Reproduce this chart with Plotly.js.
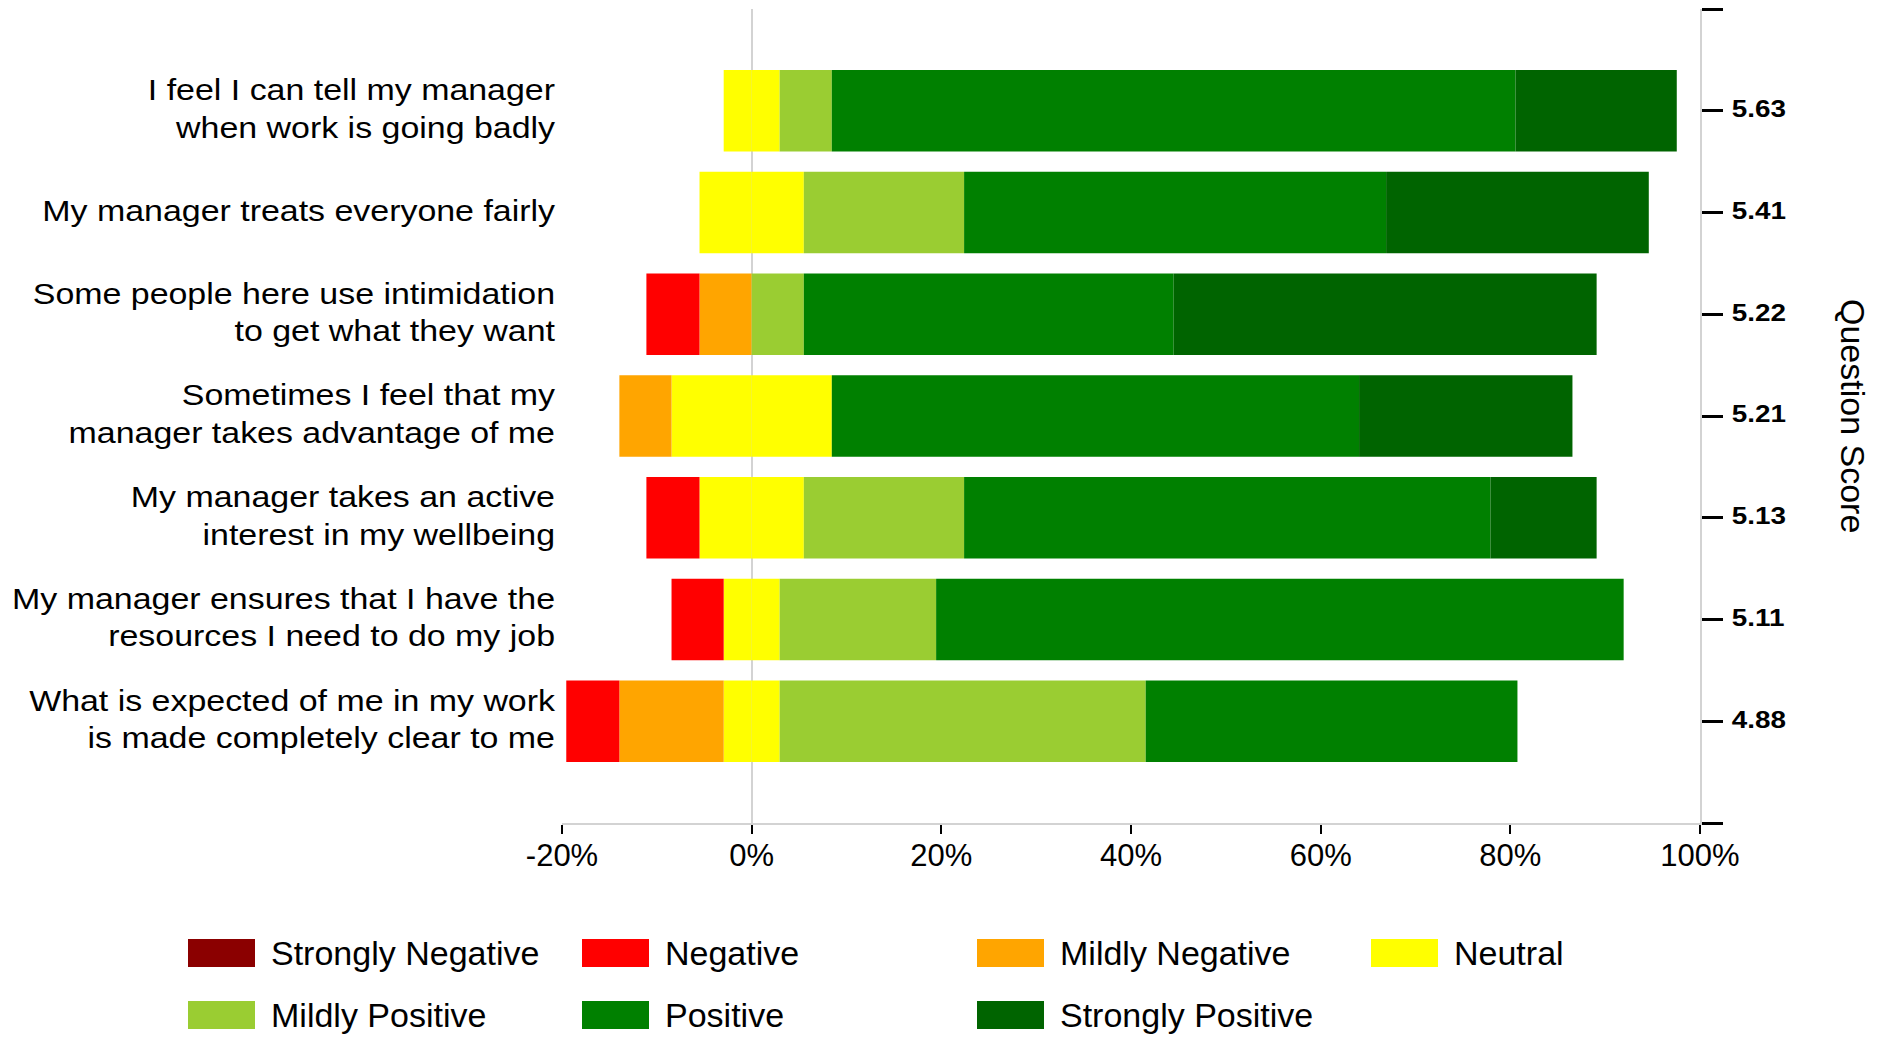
<!DOCTYPE html>
<html>
<head>
<meta charset="utf-8">
<script src="https://cdn.plot.ly/plotly-3.0.1.min.js"></script>
<style>
  html, body { margin: 0; padding: 0; background: #ffffff; }
  #chart { width: 1883px; height: 1038px; }
</style>
</head>
<body>
<div id="chart"></div>
<script>
// Questions, top to bottom
const questions = [
  "I feel I can tell my manager<br>when work is going badly",
  "My manager treats everyone fairly",
  "Some people here use intimidation<br>to get what they want",
  "Sometimes I feel that my<br>manager takes advantage of me",
  "My manager takes an active<br>interest in my wellbeing",
  "My manager ensures that I have the<br>resources I need to do my job",
  "What is expected of me in my work<br>is made completely clear to me"
];
const questionScores = ["5.63", "5.41", "5.22", "5.21", "5.13", "5.11", "4.88"];

// Percent of responses per category (same order as questions)
const stronglyNegative = [0, 0, 0, 0, 0, 0, 0];
const negative         = [0, 0, 5.6, 0, 5.6, 5.5, 5.6];
const mildlyNegative   = [0, 0, 5.5, 5.5, 0, 0, 11.0];
const neutral          = [5.9, 11.0, 0, 16.9, 11.0, 5.9, 5.9];
const mildlyPositive   = [5.5, 16.9, 5.5, 0, 16.9, 16.5, 38.6];
const positive         = [72.1, 44.5, 39.0, 55.6, 55.5, 72.5, 39.2];
const stronglyPositive = [17.0, 27.7, 44.6, 22.5, 11.2, 0, 0];

const xTickValues = [-20, 0, 20, 40, 60, 80, 100];
const xTickLabels = ["-20%", "0%", "20%", "40%", "60%", "80%", "100%"];

const seriesNames = ["Strongly Negative", "Negative", "Mildly Negative", "Neutral",
                     "Mildly Positive", "Positive", "Strongly Positive"];
const seriesColors = ["#8b0000", "#ff0000", "#ffa500", "#ffff00",
                      "#9acd32", "#008000", "#006400"];

// ---- build traces ----
const n = questions.length;
const yIdx = questions.map((_, i) => n - 1 - i); // top question gets highest index
const FONT = "Liberation Sans, Arial, Helvetica, sans-serif";

function barTrace(name, color, values) {
  return {
    type: "bar", orientation: "h", name: name,
    x: values, y: yIdx,
    marker: { color: color, line: { width: 0 } },
    showlegend: false, hoverinfo: "x+name"
  };
}
const neg = a => a.map(v => -v);
const half = a => a.map(v => v / 2);

const traces = [
  barTrace("Neutral", seriesColors[3], neg(half(neutral))),
  barTrace("Neutral", seriesColors[3], half(neutral)),
  barTrace("Mildly Negative", seriesColors[2], neg(mildlyNegative)),
  barTrace("Mildly Positive", seriesColors[4], mildlyPositive),
  barTrace("Negative", seriesColors[1], neg(negative)),
  barTrace("Positive", seriesColors[5], positive),
  barTrace("Strongly Negative", seriesColors[0], neg(stronglyNegative)),
  barTrace("Strongly Positive", seriesColors[6], stronglyPositive),
  { // carrier trace for the right-hand score axis
    type: "scatter", mode: "markers", x: yIdx.map(() => 0), y: yIdx,
    yaxis: "y2", marker: { opacity: 0, size: 1 }, hoverinfo: "skip", showlegend: false
  }
];

// ---- geometry (pixels) ----
const W = 1883, H = 1038;
const M = { l: 562, r: 183, t: 9, b: 215 };
const PW = W - M.l - M.r, PH = H - M.t - M.b;
const px2x = px => (px - M.l) / PW;
const py2y = py => (H - M.b - py) / PH;

// ---- legend with large swatches ----
const shapes = [], annotations = [];
const legendCols = [188, 582, 977, 1371];
const legendRows = [953, 1015];
seriesNames.forEach((name, i) => {
  const col = i % 4, row = Math.floor(i / 4);
  const x0 = legendCols[col], yc = legendRows[row];
  shapes.push({
    type: "rect", xref: "paper", yref: "paper",
    x0: px2x(x0), x1: px2x(x0 + 67), y0: py2y(yc + 14), y1: py2y(yc - 14),
    fillcolor: seriesColors[i], line: { width: 0 }
  });
  annotations.push({
    xref: "paper", yref: "paper", x: px2x(x0 + 81), y: py2y(yc),
    xanchor: "left", yanchor: "middle", showarrow: false,
    text: name, font: { family: FONT, size: 34, color: "#000" }
  });
});
annotations.push({
  xref: "paper", yref: "paper", x: px2x(1853), y: 0.5,
  xanchor: "center", yanchor: "middle", showarrow: false, textangle: 90,
  text: "Question Score", font: { family: FONT, size: 34, color: "#000" }
});

const layout = {
  width: W, height: H,
  margin: M,
  paper_bgcolor: "#ffffff", plot_bgcolor: "#ffffff",
  barmode: "relative", bargap: 0.2,
  showlegend: false,
  font: { family: FONT, color: "#000" },
  xaxis: {
    range: [-20, 100], tickvals: xTickValues, ticktext: xTickLabels,
    showgrid: false, zeroline: true, zerolinecolor: "#d3d3d3", zerolinewidth: 2,
    showline: true, linecolor: "#d3d3d3", linewidth: 2,
    ticks: "outside", ticklen: 9, tickwidth: 2, tickcolor: "#000",
    ticklabelstandoff: -5,
    tickfont: { family: FONT, size: 31, color: "#000" }, fixedrange: true
  },
  yaxis: {
    range: [-1, 7], tickvals: yIdx, ticktext: questions,
    showgrid: false, zeroline: false, showline: false, ticks: "",
    ticklabelstandoff: 6,
    tickfont: { family: FONT, size: 29, color: "#000" }, fixedrange: true
  },
  yaxis2: {
    overlaying: "y", side: "right", range: [-1, 7],
    tickvals: [-1].concat(yIdx, [7]),
    ticktext: [""].concat(questionScores, [""]),
    showgrid: false, zeroline: false,
    showline: true, linecolor: "#d3d3d3", linewidth: 2,
    ticks: "outside", ticklen: 21, tickwidth: 3, tickcolor: "#000",
    ticklabelstandoff: 4,
    tickfont: { family: FONT, size: 24, color: "#000", weight: "bold" }, fixedrange: true
  },
  shapes: shapes,
  annotations: annotations
};

// Widen tick label glyphs horizontally (the reference text is drawn wider than regular Arial)
const MARK = " /*w*/";
function widen(selector, s, dy) {
  document.querySelectorAll(selector).forEach(t => {
    let tr = t.getAttribute("transform") || "";
    if (tr.indexOf("scale(") >= 0) return; // already widened
    const X = parseFloat(t.getAttribute("x")) || 0;
    t.setAttribute("transform", tr + " translate(" + (X * (1 - s)) + "," + dy + ") scale(" + s + ",1)");
  });
}
function widenAll() {
  widen("#chart g.ytick text", 1.17, -2);
  widen("#chart g.y2tick text", 1.16, -2);
}

const gd = document.getElementById("chart");
Plotly.newPlot(gd, traces, layout, { displayModeBar: false, staticPlot: true })
  .then(() => {
    widenAll();
    gd.on("plotly_afterplot", widenAll);
    setTimeout(widenAll, 0);
    setTimeout(widenAll, 100);
  });
</script>
</body>
</html>
